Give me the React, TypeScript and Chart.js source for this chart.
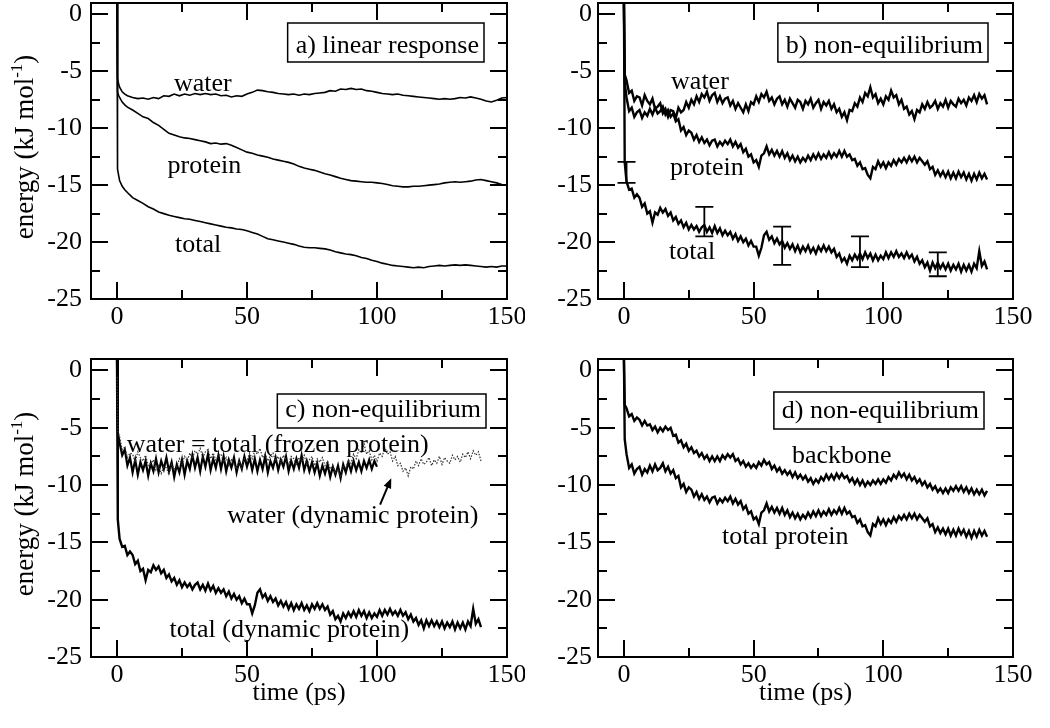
import React, { useEffect, useRef } from 'react';
import { Chart, registerables } from 'chart.js';

Chart.register(...registerables);

const FONT = '"Liberation Serif", "Times New Roman", serif';
const FS = 26;

// ---- tick values ----
const X_MAJOR = [0, 50, 100, 150];
const X_MINOR = [25, 75, 125];
const Y_MAJOR = [0, -5, -10, -15, -20, -25];
const Y_MINOR = [-2.5, -7.5, -12.5, -17.5, -22.5];

// ---- panel a: linear response (time, ps) ----
const T_A = [0, 0.1, 0.3, 0.6, 1, 2, 3, 4, 6, 8, 10, 12, 14, 16, 18, 20, 22, 24, 26, 28, 30, 32, 34, 36, 38, 40, 42, 44, 46, 48, 50, 52, 54, 56, 58, 60, 62, 64, 66, 68, 70, 72, 74, 76, 78, 80, 82, 84, 86, 88, 90, 92, 94, 96, 98, 100, 102, 104, 106, 108, 110, 112, 114, 116, 118, 120, 122, 124, 126, 128, 130, 132, 134, 136, 138, 140, 142, 144, 146, 148, 150];
const A_WATER = [1.0, -4.5, -5.6, -6.1, -6.4, -6.8, -7.0, -7.15, -7.3, -7.4, -7.35, -7.45, -7.3, -7.4, -7.15, -7.2, -7.0, -7.15, -7.0, -7.1, -6.95, -7.05, -6.95, -7.05, -7.0, -7.15, -7.1, -7.25, -7.15, -7.2, -7.0, -6.85, -6.65, -6.7, -6.8, -6.85, -6.95, -7.0, -7.05, -7.0, -7.1, -7.0, -7.05, -6.95, -6.9, -6.85, -6.7, -6.75, -6.55, -6.6, -6.5, -6.6, -6.55, -6.7, -6.75, -6.85, -6.95, -7.0, -7.05, -7.0, -7.1, -7.15, -7.2, -7.25, -7.3, -7.35, -7.4, -7.45, -7.4, -7.45, -7.4, -7.3, -7.35, -7.25, -7.35, -7.45, -7.6, -7.7, -7.55, -7.35, -7.3];
const A_PROTEIN = [1.0, -6.0, -6.8, -7.1, -7.3, -7.7, -7.95, -8.15, -8.4, -8.7, -9.0, -9.15, -9.5, -9.75, -10.1, -10.45, -10.6, -10.75, -10.85, -10.9, -11.0, -11.1, -11.2, -11.35, -11.3, -11.4, -11.35, -11.5, -11.7, -11.9, -12.1, -12.2, -12.35, -12.45, -12.55, -12.7, -12.8, -12.9, -13.0, -13.15, -13.35, -13.5, -13.6, -13.7, -13.85, -14.0, -14.1, -14.25, -14.4, -14.5, -14.6, -14.65, -14.7, -14.75, -14.75, -14.8, -14.85, -14.95, -15.05, -15.1, -15.15, -15.15, -15.1, -15.1, -15.05, -15.0, -14.95, -14.9, -14.8, -14.75, -14.7, -14.75, -14.7, -14.65, -14.55, -14.5, -14.6, -14.7, -14.8, -14.95, -15.0];
const A_TOTAL = [1.0, -12.9, -13.6, -14.1, -14.6, -15.1, -15.4, -15.65, -16.1, -16.35, -16.6, -16.9, -17.1, -17.35, -17.5, -17.65, -17.75, -17.85, -17.95, -18.0, -18.1, -18.2, -18.3, -18.4, -18.5, -18.6, -18.7, -18.75, -18.85, -18.9, -19.0, -19.15, -19.3, -19.5, -19.7, -19.8, -19.9, -20.0, -20.1, -20.2, -20.35, -20.45, -20.5, -20.5, -20.55, -20.6, -20.7, -20.85, -20.95, -21.05, -21.1, -21.2, -21.35, -21.45, -21.6, -21.7, -21.85, -21.95, -22.05, -22.1, -22.15, -22.2, -22.25, -22.2, -22.25, -22.15, -22.1, -22.05, -22.1, -22.05, -22.0, -22.05, -22.0, -22.05, -22.1, -22.15, -22.2, -22.15, -22.2, -22.1, -22.1];

// ---- panels b, c, d: non-equilibrium (time, ps) ----
const T_B = [0, 0.3, 1, 2, 3, 4, 5, 6, 7, 8, 9, 10, 11, 12, 13, 14, 15, 16, 17, 18, 19, 20, 21, 22, 23, 24, 25, 26, 27, 28, 29, 30, 31, 32, 33, 34, 35, 36, 37, 38, 39, 40, 41, 42, 43, 44, 45, 46, 47, 48, 49, 50, 51, 52, 53, 54, 55, 56, 57, 58, 59, 60, 61, 62, 63, 64, 65, 66, 67, 68, 69, 70, 71, 72, 73, 74, 75, 76, 77, 78, 79, 80, 81, 82, 83, 84, 85, 86, 87, 88, 89, 90, 91, 92, 93, 94, 95, 96, 97, 98, 99, 100, 101, 102, 103, 104, 105, 106, 107, 108, 109, 110, 111, 112, 113, 114, 115, 116, 117, 118, 119, 120, 121, 122, 123, 124, 125, 126, 127, 128, 129, 130, 131, 132, 133, 134, 135, 136, 137, 138, 139, 140];
const B_WATER = [1.0, -5.3,
  -5.8, -6.9, -6.7, -7.6, -7.2, -7.3, -8.0, -7.1, -7.6, -7.9,
  -7.4, -8.3, -8.1, -7.8, -8.7, -8.3, -9.0, -8.4, -8.5, -9.1,
  -8.2, -8.6, -8.4, -7.7, -8.2, -7.5, -7.9, -7.2, -7.7, -7.0,
  -7.3, -6.8, -7.6, -7.1, -6.9, -7.7, -7.2, -7.8, -7.4, -7.3,
  -8.0, -7.6, -8.3, -7.8, -8.2, -8.6, -7.9, -8.5, -7.7, -7.9,
  -7.2, -7.7, -7.0, -7.3, -6.8, -7.6, -7.3, -7.9, -7.4, -7.2,
  -7.9, -7.5, -8.1, -7.4, -7.8, -8.2, -7.5, -7.7, -8.3, -7.6,
  -7.9, -7.4, -8.2, -7.8, -7.5, -8.3, -7.7, -8.0, -7.6, -8.3,
  -7.9, -8.6, -8.3, -9.0, -8.6, -9.3, -8.4, -8.5, -7.8, -8.1,
  -7.3, -7.7, -6.9, -7.2, -6.4, -7.3, -7.0, -7.8, -7.4, -7.9,
  -7.2, -7.5, -6.7, -7.3, -7.1, -7.9, -7.5, -8.3, -8.1, -8.8,
  -8.5, -9.2, -8.4, -8.6, -7.9, -8.3, -7.7, -8.2, -8.0, -7.6,
  -8.3, -7.8, -8.1, -7.5, -8.2, -7.6, -7.9, -8.1, -7.4, -7.8,
  -7.5, -8.0, -7.3, -7.6, -7.1, -7.7, -7.0, -7.4, -7.1, -7.9];
const B_PROTEIN = [1.0, -6.0,
  -7.3, -8.5, -8.2, -9.0, -8.6, -8.4, -9.1, -8.6, -8.9, -8.3,
  -8.8, -8.2, -8.7, -8.5, -8.1, -8.8, -8.4, -9.0, -8.7, -9.4,
  -9.2, -10.2, -9.9, -10.6, -10.2, -10.4, -11.0, -10.6, -11.2, -10.8,
  -11.3, -11.0, -11.5, -11.1, -11.0, -11.6, -11.2, -11.5, -11.1, -11.4,
  -11.0, -11.6, -11.2, -11.7, -11.4, -12.1, -11.8, -12.5, -12.3, -13.0,
  -12.8, -13.4, -12.4, -12.2, -11.6, -12.3, -11.9, -12.4, -12.0, -12.5,
  -12.0, -12.6, -12.2, -12.8, -12.4, -12.9, -12.5, -13.0, -12.6, -12.9,
  -12.4, -12.8, -12.3, -12.7, -12.2, -12.7, -12.3, -12.6, -12.1, -12.6,
  -12.2, -12.5, -12.0, -12.5, -12.0, -12.5, -12.3, -12.8, -12.7, -13.3,
  -13.0, -13.6, -13.5, -14.1, -14.4, -13.4, -13.6, -12.9, -13.4, -13.0,
  -13.5, -13.0, -13.3, -12.8, -13.2, -12.7, -13.0, -12.6, -13.0, -12.5,
  -12.9, -12.5, -13.0, -12.6, -12.9, -13.2, -12.9, -13.6, -13.4, -14.1,
  -13.7, -14.2, -13.8, -14.3, -13.8, -14.4, -13.9, -14.4, -13.8, -14.3,
  -13.9, -14.5, -14.0, -14.6, -14.0, -14.5, -13.9, -14.4, -14.0, -14.5];
const B_TOTAL = [1.0, -13.0,
  -14.7, -15.4, -15.3, -16.1, -15.8, -16.1, -16.9, -16.6, -17.5, -17.3,
  -18.3, -17.4, -17.6, -17.0, -17.4, -17.1, -17.7, -17.4, -18.1, -17.8,
  -18.4, -18.1, -18.7, -18.3, -18.9, -18.5, -18.9, -18.6, -19.1, -18.7,
  -18.5, -19.1, -18.7, -19.2, -18.6, -19.2, -18.8, -19.4, -19.0, -19.4,
  -19.1, -19.7, -19.3, -19.9, -19.5, -20.0, -19.7, -20.3, -19.9, -20.4,
  -20.4, -21.2, -20.5, -19.4, -19.1, -19.8, -19.5, -20.1, -19.7, -20.2,
  -19.9, -20.5, -20.1, -20.6, -20.2, -20.8, -20.3, -20.9, -20.4, -20.8,
  -20.3, -20.9, -20.5, -21.0, -20.4, -20.8, -20.3, -20.8, -20.4, -20.9,
  -20.6, -21.3, -21.0, -21.7, -21.4, -21.9, -21.2, -21.6, -21.1, -21.5,
  -21.0, -21.5, -20.9, -21.4, -21.0, -21.6, -21.1, -21.6, -21.2, -21.5,
  -20.9, -21.4, -20.9, -21.3, -20.8, -21.3, -21.0, -21.4, -20.9, -21.4,
  -21.1, -21.7, -21.3, -21.9, -21.6, -22.2, -21.8, -22.5, -21.8, -22.3,
  -21.8, -22.3, -21.9, -22.4, -21.9, -22.5, -22.0, -22.4, -21.9, -22.6,
  -22.0, -22.5, -22.0, -22.6, -21.9, -22.3, -20.8, -22.1, -21.7, -22.4];
const C_FROZEN_WATER = [1.0, -5.4,
  -6.3, -7.4, -6.9, -8.3, -7.6, -8.9, -7.8, -9.1, -8.0, -8.7,
  -7.9, -9.2, -8.1, -8.8, -7.7, -8.9, -7.9, -8.6, -7.6, -8.8,
  -8.0, -9.3, -8.2, -8.9, -7.8, -9.1, -7.9, -8.6, -7.4, -8.5,
  -7.6, -8.8, -7.5, -8.4, -7.3, -8.7, -7.7, -8.5, -7.4, -8.6,
  -7.5, -8.8, -7.8, -8.5, -7.6, -8.9, -7.9, -8.6, -7.5, -8.4,
  -7.6, -8.7, -7.7, -8.8, -7.8, -8.6, -7.5, -8.9, -7.9, -8.5,
  -7.6, -8.7, -7.8, -8.4, -7.5, -8.8, -7.9, -8.6, -7.7, -8.5,
  -7.4, -8.7, -7.9, -8.8, -8.0, -8.9, -8.1, -9.2, -8.3, -9.0,
  -8.2, -9.3, -8.4, -9.1, -8.3, -9.4, -8.2, -8.9, -8.0, -8.8,
  -7.9, -8.7, -8.0, -8.8, -7.9, -8.5, -7.8, -8.6, -7.9, -8.4];
const D_BACKBONE = [1.0, -3.0,
  -3.3, -4.0, -3.8, -4.4, -4.1, -4.3, -4.8, -4.4, -4.8, -4.7,
  -5.2, -4.9, -5.4, -5.0, -5.3, -4.9, -5.2, -5.0, -5.7, -5.6,
  -6.3, -6.1, -6.7, -6.4, -7.0, -6.7, -7.2, -7.0, -7.5, -7.2,
  -7.7, -7.4, -7.9, -7.5, -7.9, -7.5, -7.9, -7.4, -7.7, -7.3,
  -7.6, -7.3, -7.9, -7.7, -8.2, -7.9, -8.4, -8.1, -8.5, -8.2,
  -8.5, -8.0, -8.3, -7.8, -8.2, -8.0, -8.6, -8.3, -8.8, -8.5,
  -9.0, -8.7, -9.1, -8.8, -9.3, -8.9, -9.4, -9.1, -9.5, -9.2,
  -9.7, -9.4, -9.9, -9.5, -9.8, -9.3, -9.6, -9.1, -9.5, -9.1,
  -9.5, -9.0, -9.4, -9.0, -9.4, -9.2, -9.7, -9.4, -9.9, -9.5,
  -10.0, -9.6, -10.1, -9.7, -10.0, -9.6, -9.9, -9.5, -9.9, -9.5,
  -9.8, -9.3, -9.6, -9.1, -9.4, -8.9, -9.3, -9.0, -9.5, -9.1,
  -9.6, -9.3, -9.8, -9.5, -10.0, -9.7, -10.2, -9.9, -10.4, -10.1,
  -10.6, -10.3, -10.7, -10.3, -10.7, -10.2, -10.5, -10.1, -10.5, -10.1,
  -10.6, -10.2, -10.7, -10.3, -10.8, -10.4, -10.8, -10.4, -10.9, -10.5];

// ---- error bars (panel b, total) ----
const ERR_T = [1, 31, 61, 91, 121];
const ERR_HIGH = [-12.95, -16.9, -18.65, -19.5, -20.9];
const ERR_LOW = [-14.8, -19.5, -22.0, -22.2, -23.0];

type Series = { t: number[]; v: number[]; width: number; color: string; dash?: number[] };
type Label = { text: string; x: number; y: number };
type PanelCfg = {
  series: Series[];
  labels: Label[];
  box: { text: string; right: number; top: number; h: number; base: number };
  padTop: number;
  padRight: number;
  yAxisW: number;
  xAxisH: number;
  yLabelPad: number;
  yTitle: boolean;
  xTitle: boolean;
  errorBars?: boolean;
  arrow?: { x1: number; y1: number; x2: number; y2: number };
};

const PANEL_A: PanelCfg = {
  series: [
    { t: T_A, v: A_WATER, width: 1.6, color: '#000' },
    { t: T_A, v: A_PROTEIN, width: 1.6, color: '#000' },
    { t: T_A, v: A_TOTAL, width: 1.6, color: '#000' },
  ],
  labels: [
    { text: 'water', x: 33, y: -6.73 },
    { text: 'protein', x: 33.6, y: -13.9 },
    { text: 'total', x: 31.2, y: -20.9 },
  ],
  box: { text: 'a) linear response', right: 23, top: 20, h: 39, base: 50 },
  padTop: 3, padRight: 18, yAxisW: 91, xAxisH: 41, yLabelPad: 9, yTitle: true, xTitle: false,
};

const PANEL_B: PanelCfg = {
  series: [
    { t: T_B, v: B_WATER, width: 2.4, color: '#000' },
    { t: T_B, v: B_PROTEIN, width: 2.4, color: '#000' },
    { t: T_B, v: B_TOTAL, width: 2.4, color: '#000' },
  ],
  labels: [
    { text: 'water', x: 29.3, y: -6.52 },
    { text: 'protein', x: 32, y: -14.1 },
    { text: 'total', x: 26.3, y: -21.5 },
  ],
  box: { text: 'b) non-equilibrium', right: 25, top: 20, h: 39, base: 50 },
  padTop: 3, padRight: 37, yAxisW: 73, xAxisH: 41, yLabelPad: 6, yTitle: false, xTitle: false,
  errorBars: true,
};

const PANEL_C: PanelCfg = {
  series: [
    { t: T_B, v: B_WATER, width: 1.2, color: '#333', dash: [1.5, 1.5] },
    { t: T_B, v: C_FROZEN_WATER, width: 2.2, color: '#000' },
    { t: T_B, v: B_TOTAL, width: 2.4, color: '#000' },
  ],
  labels: [
    { text: 'water = total (frozen protein)', x: 61.8, y: -7.08 },
    { text: 'water (dynamic protein)', x: 90.7, y: -13.34 },
    { text: 'total (dynamic protein)', x: 66.3, y: -23.25 },
  ],
  box: { text: 'c) non-equilibrium', right: 21, top: 35, h: 34, base: 58 },
  padTop: 19, padRight: 18, yAxisW: 91, xAxisH: 71, yLabelPad: 9, yTitle: true, xTitle: true,
  arrow: { x1: 101.2, y1: -11.7, x2: 105.5, y2: -9.4 },
};

const PANEL_D: PanelCfg = {
  series: [
    { t: T_B, v: D_BACKBONE, width: 2.4, color: '#000' },
    { t: T_B, v: B_PROTEIN, width: 2.4, color: '#000' },
  ],
  labels: [
    { text: 'backbone', x: 84, y: -8.1 },
    { text: 'total protein', x: 62.2, y: -15.1 },
  ],
  box: { text: 'd) non-equilibrium', right: 29, top: 33, h: 37, base: 59 },
  padTop: 19, padRight: 37, yAxisW: 73, xAxisH: 71, yLabelPad: 6, yTitle: false, xTitle: true,
};

function makeDecor(cfg: PanelCfg) {
  return {
    id: 'decor',
    afterDraw(chart: any) {
      const { ctx, chartArea: ca } = chart;
      const xs = chart.scales.x;
      const ys = chart.scales.y;
      ctx.save();
      ctx.strokeStyle = '#000';
      ctx.fillStyle = '#000';
      ctx.lineWidth = 2;
      ctx.lineCap = 'butt';
      // frame
      ctx.strokeRect(ca.left, ca.top, ca.right - ca.left, ca.bottom - ca.top);
      // inward ticks on all four sides
      ctx.beginPath();
      const xt = (vals: number[], len: number) => {
        vals.forEach((v) => {
          const p = Math.round(xs.getPixelForValue(v));
          ctx.moveTo(p, ca.bottom); ctx.lineTo(p, ca.bottom - len);
          ctx.moveTo(p, ca.top); ctx.lineTo(p, ca.top + len);
        });
      };
      const yt = (vals: number[], len: number) => {
        vals.forEach((v) => {
          const p = Math.round(ys.getPixelForValue(v));
          ctx.moveTo(ca.left, p); ctx.lineTo(ca.left + len, p);
          ctx.moveTo(ca.right, p); ctx.lineTo(ca.right - len, p);
        });
      };
      xt(X_MAJOR, 17); xt(X_MINOR, 9);
      yt(Y_MAJOR, 17); yt(Y_MINOR, 9);
      ctx.stroke();

      // error bars
      if (cfg.errorBars) {
        ctx.lineWidth = 1.8;
        ctx.beginPath();
        ERR_T.forEach((t, i) => {
          const px = xs.getPixelForValue(t);
          const hi = ys.getPixelForValue(ERR_HIGH[i]);
          const lo = ys.getPixelForValue(ERR_LOW[i]);
          ctx.moveTo(px, hi); ctx.lineTo(px, lo);
          ctx.moveTo(px - 9, hi); ctx.lineTo(px + 9, hi);
          ctx.moveTo(px - 9, lo); ctx.lineTo(px + 9, lo);
        });
        ctx.stroke();
      }

      // arrow
      if (cfg.arrow) {
        const a = cfg.arrow;
        const x1 = xs.getPixelForValue(a.x1), y1 = ys.getPixelForValue(a.y1);
        const x2 = xs.getPixelForValue(a.x2), y2 = ys.getPixelForValue(a.y2);
        const ang = Math.atan2(y2 - y1, x2 - x1);
        ctx.lineWidth = 2;
        ctx.beginPath();
        ctx.moveTo(x1, y1);
        ctx.lineTo(x2 - 6 * Math.cos(ang), y2 - 6 * Math.sin(ang));
        ctx.stroke();
        ctx.beginPath();
        ctx.moveTo(x2, y2);
        ctx.lineTo(x2 - 10 * Math.cos(ang) + 4 * Math.sin(ang), y2 - 10 * Math.sin(ang) - 4 * Math.cos(ang));
        ctx.lineTo(x2 - 10 * Math.cos(ang) - 4 * Math.sin(ang), y2 - 10 * Math.sin(ang) + 4 * Math.cos(ang));
        ctx.closePath();
        ctx.fill();
      }

      // curve labels
      ctx.font = `${FS}px ${FONT}`;
      ctx.textAlign = 'center';
      ctx.textBaseline = 'alphabetic';
      cfg.labels.forEach((l) => {
        ctx.fillText(l.text, xs.getPixelForValue(l.x), ys.getPixelForValue(l.y));
      });

      // panel box
      const b = cfg.box;
      const w = ctx.measureText(b.text).width;
      const right = ca.right - b.right;
      const textRight = right - 5;
      const left = textRight - w - 8;
      const top = ca.top + b.top;
      ctx.fillStyle = '#fff';
      ctx.fillRect(left, top, right - left, b.h);
      ctx.fillStyle = '#000';
      ctx.lineWidth = 1.5;
      ctx.strokeRect(left, top, right - left, b.h);
      ctx.textAlign = 'right';
      ctx.fillText(b.text, textRight, ca.top + b.base);

      // y axis title with superscript
      if (cfg.yTitle) {
        const main = 'energy (kJ mol';
        const sup = '-1';
        const end = ')';
        ctx.font = `27px ${FONT}`;
        const w1 = ctx.measureText(main).width;
        const w3 = ctx.measureText(end).width;
        ctx.font = `17px ${FONT}`;
        const w2 = ctx.measureText(sup).width;
        const total = w1 + w2 + w3;
        ctx.save();
        ctx.translate(33, (ca.top + ca.bottom) / 2 - 4);
        ctx.rotate(-Math.PI / 2);
        ctx.textAlign = 'left';
        ctx.font = `27px ${FONT}`;
        let x0 = -total / 2;
        ctx.fillText(main, x0, 0);
        x0 += w1;
        ctx.font = `17px ${FONT}`;
        ctx.fillText(sup, x0, -11);
        x0 += w2;
        ctx.font = `27px ${FONT}`;
        ctx.fillText(end, x0, 0);
        ctx.restore();
      }

      // x axis title
      if (cfg.xTitle) {
        ctx.font = `${FS}px ${FONT}`;
        ctx.textAlign = 'center';
        ctx.fillText('time (ps)', (ca.left + ca.right) / 2, ca.bottom + 43);
      }
      ctx.restore();
    },
  };
}

function Panel({ cfg, left, top, width, height }: { cfg: PanelCfg; left: number; top: number; width: number; height: number }) {
  const ref = useRef<HTMLCanvasElement>(null);
  useEffect(() => {
    if (!ref.current) return;
    const datasets = cfg.series.map((s) => ({
      data: s.v.map((v, i) => ({ x: s.t[i], y: v })),
      borderColor: s.color,
      borderWidth: s.width,
      borderDash: s.dash || [],
      borderJoinStyle: 'miter',
      pointRadius: 0,
      fill: false,
      tension: 0,
    }));
    const tickFont = { family: FONT, size: FS };
    const chart = new Chart(ref.current, {
      type: 'line',
      data: { datasets } as any,
      options: {
        responsive: false,
        animation: false,
        devicePixelRatio: 1,
        layout: { padding: { left: 0, right: cfg.padRight, top: cfg.padTop, bottom: 0 } },
        plugins: { legend: { display: false }, tooltip: { enabled: false }, title: { display: false } },
        scales: {
          x: {
            type: 'linear',
            min: -10,
            max: 150,
            grid: { display: false, drawTicks: false },
            border: { display: false },
            ticks: { font: tickFont, color: '#000', padding: 3, maxRotation: 0, autoSkip: false, callback: (v: any) => String(v) },
            afterBuildTicks: (s: any) => { s.ticks = X_MAJOR.map((v) => ({ value: v })); },
            afterFit: (s: any) => { s.height = cfg.xAxisH; s.paddingLeft = 0; s.paddingRight = 0; },
          },
          y: {
            type: 'linear',
            min: -25,
            max: 1,
            grid: { display: false, drawTicks: false },
            border: { display: false },
            ticks: { font: tickFont, color: '#000', padding: cfg.yLabelPad, autoSkip: false, callback: (v: any) => String(v) },
            afterBuildTicks: (s: any) => { s.ticks = Y_MAJOR.map((v) => ({ value: v })); },
            afterFit: (s: any) => { s.width = cfg.yAxisW; s.paddingTop = 0; s.paddingBottom = 0; },
          },
        },
      } as any,
      plugins: [makeDecor(cfg)],
    });
    return () => chart.destroy();
  }, []);
  return (
    <canvas
      ref={ref}
      width={width}
      height={height}
      style={{ position: 'absolute', left, top, width, height }}
    />
  );
}

export default function App() {
  return (
    <div style={{ position: 'absolute', left: 0, top: 0, width: 1050, height: 728, background: '#fff' }}>
      <Panel cfg={PANEL_A} left={0} top={0} width={525} height={340} />
      <Panel cfg={PANEL_B} left={525} top={0} width={525} height={340} />
      <Panel cfg={PANEL_C} left={0} top={340} width={525} height={388} />
      <Panel cfg={PANEL_D} left={525} top={340} width={525} height={388} />
    </div>
  );
}
